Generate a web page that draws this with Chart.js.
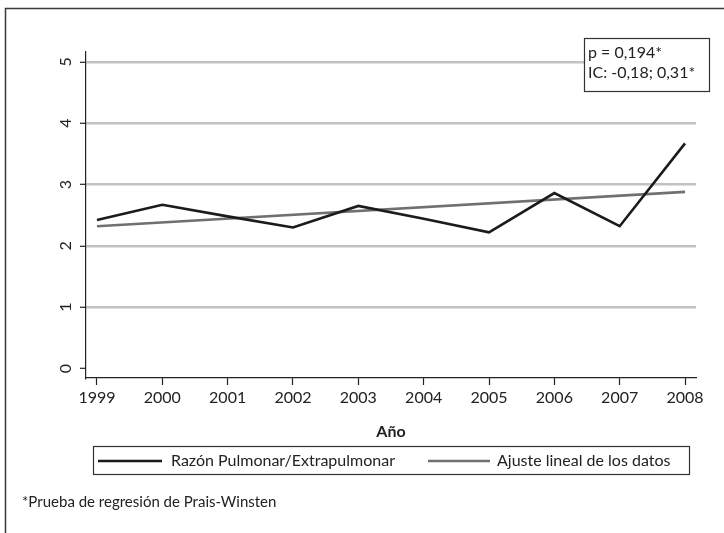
<!DOCTYPE html>
<html lang="es">
<head>
<meta charset="utf-8">
<title>Razón Pulmonar/Extrapulmonar 1999-2008</title>
<script src="https://cdn.jsdelivr.net/npm/chart.js@4.4.1/dist/chart.umd.min.js"></script>
<style>
  html, body { margin: 0; padding: 0; background: #ffffff; }
  #wrap { width: 724px; height: 533px; position: relative; }
  canvas { display: block; }
</style>
</head>
<body>
<div id="wrap"><canvas id="grafico" width="724" height="533"></canvas></div>
<script>
// Años del periodo analizado
const years = [1999, 2000, 2001, 2002, 2003, 2004, 2005, 2006, 2007, 2008];
// Razón de casos pulmonares / extrapulmonares por año
const razon = [2.42, 2.67, 2.48, 2.30, 2.65, 2.44, 2.22, 2.86, 2.32, 3.67];
// Extremos de la recta de ajuste lineal (1999 y 2008)
const fitYears = [1999, 2008];
const fitValues = [2.32, 2.88];
// Marcas del eje vertical
const yTicks = [0, 1, 2, 3, 4, 5];
// Textos
const seriesNames = ['Razón Pulmonar/Extrapulmonar', 'Ajuste lineal de los datos'];
const statLines = ['p = 0,194*', 'IC: -0,18; 0,31*'];
const xTitle = 'Año';
const footnote = '*Prueba de regresión de Prais-Winsten';

const FONT = 'Lato, "Noto Sans", sans-serif';
const INK = '#222222';

const extras = {
  id: 'extras',
  afterDraw(chart) {
    const ctx = chart.ctx;
    const y = chart.scales.y;
    const area = chart.chartArea;
    ctx.save();

    // marco exterior
    ctx.strokeStyle = '#3a3a3a';
    ctx.lineWidth = 1.5;
    ctx.beginPath();
    ctx.moveTo(5.5, 533);
    ctx.lineTo(5.5, 8.5);
    ctx.lineTo(724, 8.5);
    ctx.stroke();

    // etiquetas del eje vertical, giradas
    ctx.fillStyle = INK;
    ctx.font = '16px ' + FONT;
    ctx.textAlign = 'center';
    ctx.textBaseline = 'middle';
    yTicks.forEach(v => {
      const py = y.getPixelForValue(v);
      ctx.save();
      ctx.translate(66, py);
      ctx.rotate(-Math.PI / 2);
      ctx.fillText(String(v), 0, 0);
      ctx.restore();
    });

    // título del eje horizontal, centrado sobre el área de trazado
    ctx.font = 'bold 16px ' + FONT;
    ctx.fillText(xTitle, (area.left + area.right) / 2, 432);

    // leyenda
    const lx = 93.5, ly = 446.5, lw = 596, lh = 28;
    ctx.strokeStyle = '#333333';
    ctx.lineWidth = 1.2;
    ctx.strokeRect(lx, ly, lw, lh);
    const ds = chart.data.datasets;
    const items = [
      { x0: 98, x1: 162, tx: 171 },
      { x0: 428, x1: 490, tx: 497 }
    ];
    ctx.font = '16px ' + FONT;
    ctx.textAlign = 'left';
    items.forEach((it, i) => {
      ctx.strokeStyle = ds[i].borderColor;
      ctx.lineWidth = ds[i].borderWidth;
      ctx.beginPath();
      ctx.moveTo(it.x0, 461);
      ctx.lineTo(it.x1, 461);
      ctx.stroke();
      ctx.fillStyle = INK;
      ctx.fillText(ds[i].label, it.tx, 461);
    });

    // nota al pie
    ctx.font = '15px ' + FONT;
    ctx.fillText(footnote, 22, 502);

    // recuadro con el resultado de la prueba
    const bx = 584.5, by = 38.5, bw = 125, bh = 53;
    ctx.fillStyle = '#ffffff';
    ctx.fillRect(bx, by, bw, bh);
    ctx.strokeStyle = '#333333';
    ctx.lineWidth = 1.2;
    ctx.strokeRect(bx, by, bw, bh);
    ctx.fillStyle = INK;
    ctx.font = '16px ' + FONT;
    ctx.fillText(statLines[0], 588, 53);
    ctx.fillText(statLines[1], 588, 73);

    ctx.restore();
  }
};

new Chart(document.getElementById('grafico'), {
  type: 'line',
  data: {
    datasets: [
      {
        label: seriesNames[0],
        data: years.map((yr, i) => ({ x: yr, y: razon[i] })),
        borderColor: '#1b1b1b',
        borderWidth: 2.6,
        pointRadius: 0,
        tension: 0
      },
      {
        label: seriesNames[1],
        data: fitYears.map((yr, i) => ({ x: yr, y: fitValues[i] })),
        borderColor: '#707070',
        borderWidth: 2.6,
        pointRadius: 0,
        tension: 0
      }
    ]
  },
  options: {
    responsive: false,
    animation: false,
    layout: { padding: { top: 52, right: 28, left: 0, bottom: 0 } },
    plugins: { legend: { display: false }, tooltip: { enabled: false }, title: { display: false } },
    scales: {
      x: {
        type: 'linear',
        min: 1998.832,
        max: 2008.168,
        afterBuildTicks: s => { s.ticks = years.map(v => ({ value: v })); },
        afterFit: s => { s.height = 155; },
        ticks: {
          color: INK,
          font: { family: FONT, size: 16 },
          padding: 3,
          maxRotation: 0,
          autoSkip: false,
          callback: v => String(v)
        },
        grid: {
          drawOnChartArea: false,
          drawTicks: true,
          tickLength: 7,
          tickColor: INK,
          tickWidth: 1.2
        },
        border: { color: INK, width: 1.2 }
      },
      y: {
        type: 'linear',
        min: -0.155,
        max: 5.16,
        afterBuildTicks: s => { s.ticks = yTicks.map(v => ({ value: v })); },
        afterFit: s => { s.width = 86; },
        ticks: { display: false },
        grid: {
          color: c => (c.tick && c.tick.value === 0) ? 'rgba(0,0,0,0)' : '#c2c2c2',
          lineWidth: 2.6,
          drawTicks: true,
          tickLength: 6,
          tickColor: INK,
          tickWidth: 1.2
        },
        border: { color: INK, width: 1.2 }
      }
    }
  },
  plugins: [extras]
});
</script>
</body>
</html>
